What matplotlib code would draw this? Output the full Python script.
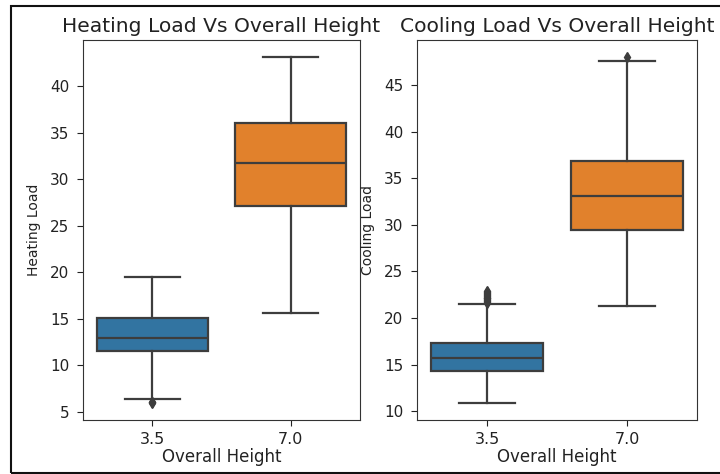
import matplotlib
matplotlib.use("Agg")
import matplotlib.pyplot as plt
from matplotlib.patches import Rectangle

plt.rcParams["font.family"] = ["DejaVu Sans"]

categories = ["3.5", "7.0"]

# Heating Load statistics per Overall Height
heat_whislo = [6.39, 15.64]
heat_q1 = [11.57, 27.07]
heat_med = [13.0, 31.78]
heat_q3 = [15.1, 36.07]
heat_whishi = [19.5, 43.1]
heat_fliers = [[6.01, 6.04, 6.05], []]

# Cooling Load statistics per Overall Height
cool_whislo = [10.9, 21.3]
cool_q1 = [14.33, 29.48]
cool_med = [15.73, 33.1]
cool_q3 = [17.28, 36.83]
cool_whishi = [21.47, 47.58]
cool_fliers = [[21.6, 21.7, 21.8, 21.9, 22.0, 22.1, 22.2, 22.3, 22.4, 22.5, 22.6, 22.7, 22.8, 22.9], [48.03]]

titles = ["Heating Load Vs Overall Height", "Cooling Load Vs Overall Height"]
ylabels = ["Heating Load", "Cooling Load"]
xlabel = "Overall Height"
colors = ["#3274a1", "#e1812c"]
gray = "#3d3d3d"

fig = plt.figure(figsize=(7.2, 4.74), dpi=100)

ax1 = fig.add_axes([83/720, 54/474, 277/720, 380/474])
ax2 = fig.add_axes([417/720, 54/474, 280/720, 380/474])

def make_stats(lo, q1, med, q3, hi, fl):
    out = []
    for i in range(len(categories)):
        out.append(dict(whislo=lo[i], q1=q1[i], med=med[i], q3=q3[i],
                        whishi=hi[i], fliers=fl[i], label=categories[i]))
    return out

datasets = [
    make_stats(heat_whislo, heat_q1, heat_med, heat_q3, heat_whishi, heat_fliers),
    make_stats(cool_whislo, cool_q1, cool_med, cool_q3, cool_whishi, cool_fliers),
]

for ax, stats, title, ylab in zip([ax1, ax2], datasets, titles, ylabels):
    bp = ax.bxp(stats, positions=[0, 1], widths=0.8, patch_artist=True,
                boxprops=dict(edgecolor=gray, linewidth=1.6),
                medianprops=dict(color=gray, linewidth=1.6),
                whiskerprops=dict(color=gray, linewidth=1.6),
                capprops=dict(color=gray, linewidth=1.6),
                flierprops=dict(marker="d", markerfacecolor=gray, markeredgecolor=gray,
                                markersize=5, linestyle="none"))
    for patch, c in zip(bp["boxes"], colors):
        patch.set_facecolor(c)
    ax.set_xlim(-0.5, 1.5)
    ax.set_xticks([0, 1])
    ax.set_xticklabels(categories)
    ax.set_title(title, fontsize=14.6, color="#222222", pad=6)
    ax.set_xlabel(xlabel, fontsize=12, color="#222222", labelpad=0)
    ax.set_ylabel(ylab, fontsize=10, color="#222222", labelpad=6)
    ax.tick_params(axis="y", labelsize=11, colors="#222222", length=4, pad=6)
    ax.tick_params(axis="x", labelsize=11.5, colors="#222222", length=4, pad=5)
    for s in ax.spines.values():
        s.set_color("#333333")

ax1.set_ylim(4.15, 44.93)
ax1.set_yticks([5, 10, 15, 20, 25, 30, 35, 40])
ax2.set_ylim(9.04, 49.88)
ax2.set_yticks([10, 15, 20, 25, 30, 35, 40, 45])

border = Rectangle((11/720, 1/474), 1.0, 467/474, transform=fig.transFigure,
                   fill=False, edgecolor="#111111", linewidth=1.5, clip_on=False)
fig.patches.append(border)

fig.savefig("out.png", dpi=100)
